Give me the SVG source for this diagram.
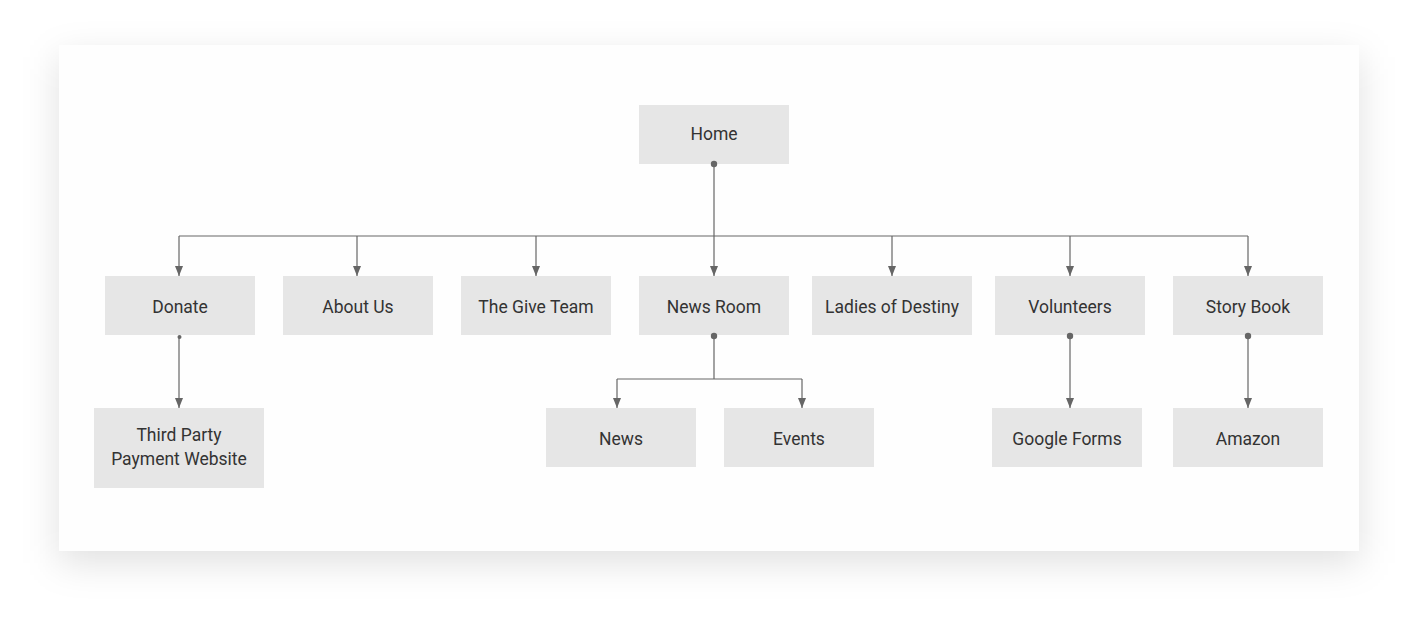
<svg xmlns="http://www.w3.org/2000/svg" width="1420" height="627" viewBox="0 0 1420 627">
<defs>
<filter id="sh" x="-10%" y="-20%" width="120%" height="145%" color-interpolation-filters="sRGB">
<feGaussianBlur stdDeviation="18"/>
</filter>
<marker id="arr" viewBox="0 0 10 10" refX="10" refY="5" markerWidth="10" markerHeight="10" markerUnits="userSpaceOnUse" orient="auto">
<path d="M0,1 L10,5 L0,9 Z" fill="#666"/>
</marker>
<style>
.box{fill:#e6e6e6}
.t{font-family:Roboto,"Liberation Sans",sans-serif;font-size:17.5px;fill:#333;text-anchor:middle}
.c{fill:none;stroke:#666;stroke-width:1.2}
.a{marker-end:url(#arr)}
.d{fill:#666}
</style>
</defs>
<rect x="0" y="0" width="1420" height="627" fill="#fff"/>
<rect x="59" y="57" width="1300" height="506" fill="#000" fill-opacity="0.12" filter="url(#sh)"/>
<rect x="59" y="45" width="1300" height="506" fill="#fefefe"/>
<g id="home"><rect class="box" x="639" y="105" width="150" height="59"/><text class="t" x="714" y="140">Home</text></g>
<g id="donate"><rect class="box" x="105" y="276" width="150" height="59"/><text class="t" x="180" y="313">Donate</text></g>
<g id="about"><rect class="box" x="283" y="276" width="150" height="59"/><text class="t" x="358" y="313">About Us</text></g>
<g id="giveteam"><rect class="box" x="461" y="276" width="150" height="59"/><text class="t" x="536" y="313">The Give Team</text></g>
<g id="newsroom"><rect class="box" x="639" y="276" width="150" height="59"/><text class="t" x="714" y="313">News Room</text></g>
<g id="ladies"><rect class="box" x="812" y="276" width="160" height="59"/><text class="t" x="892" y="313">Ladies of Destiny</text></g>
<g id="volunteers"><rect class="box" x="995" y="276" width="150" height="59"/><text class="t" x="1070" y="313">Volunteers</text></g>
<g id="storybook"><rect class="box" x="1173" y="276" width="150" height="59"/><text class="t" x="1248" y="313">Story Book</text></g>
<g id="thirdparty"><rect class="box" x="94" y="408" width="170" height="80"/><text class="t" x="179" y="441">Third Party</text><text class="t" x="179" y="465">Payment Website</text></g>
<g id="news"><rect class="box" x="546" y="408" width="150" height="59"/><text class="t" x="621" y="445">News</text></g>
<g id="events"><rect class="box" x="724" y="408" width="150" height="59"/><text class="t" x="799" y="445">Events</text></g>
<g id="googleforms"><rect class="box" x="992" y="408" width="150" height="59"/><text class="t" x="1067" y="445">Google Forms</text></g>
<g id="amazon"><rect class="box" x="1173" y="408" width="150" height="59"/><text class="t" x="1248" y="445">Amazon</text></g>
<g id="connectors">
<path class="c" d="M714,164 V236"/>
<path class="c" d="M179,236 H1248"/>
<path class="c a" d="M179,236 V276"/>
<path class="c a" d="M357,236 V276"/>
<path class="c a" d="M536,236 V276"/>
<path class="c a" d="M714,236 V276"/>
<path class="c a" d="M892,236 V276"/>
<path class="c a" d="M1070,236 V276"/>
<path class="c a" d="M1248,236 V276"/>
<path class="c a" d="M179,337 V408"/>
<path class="c" d="M714,336 V379 M617,379 H802"/>
<path class="c a" d="M617,379 V408"/>
<path class="c a" d="M802,379 V408"/>
<path class="c a" d="M1070,336 V408"/>
<path class="c a" d="M1248,336 V408"/>
<circle class="d" cx="714" cy="164" r="3.2"/>
<circle class="d" cx="179.5" cy="337" r="2"/>
<circle class="d" cx="714" cy="336" r="3.2"/>
<circle class="d" cx="1070" cy="336" r="3.2"/>
<circle class="d" cx="1248" cy="336" r="3.2"/>
</g>
</svg>
